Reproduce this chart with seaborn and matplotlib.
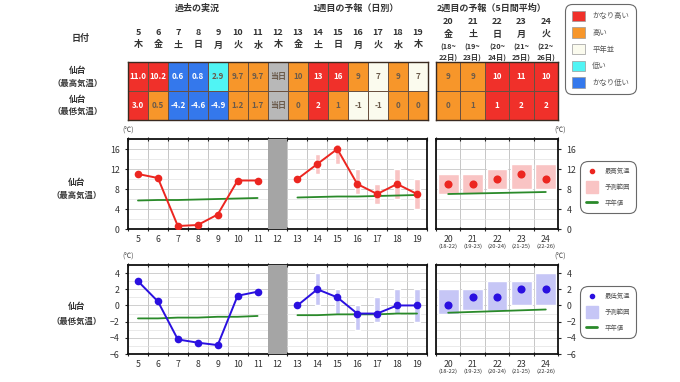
import numpy as np
import matplotlib
matplotlib.use("Agg")
import matplotlib.pyplot as plt
from matplotlib.colors import ListedColormap
from matplotlib.patches import Patch
from matplotlib.lines import Line2D
from matplotlib.ticker import MultipleLocator
import seaborn as sns

# ---------------- data ----------------
days_w1 = [5, 6, 7, 8, 9, 10, 11, 12, 13, 14, 15, 16, 17, 18, 19]
weekdays_w1 = ["木", "金", "土", "日", "月", "火", "水", "木", "金", "土", "日", "月", "火", "水", "木"]
days_w2 = [20, 21, 22, 23, 24]
weekdays_w2 = ["金", "土", "日", "月", "火"]
periods_w2 = ["18-22", "19-23", "20-24", "21-25", "22-26"]
periods_w2_head = [("(18~", "22日)"), ("(19~", "23日)"), ("(20~", "24日)"), ("(21~", "25日)"), ("(22~", "26日)")]

# table texts and classes (0 かなり高い, 1 高い, 2 平年並, 3 低い, 4 かなり低い, 5 当日)
high_text_w1 = ["11.0", "10.2", "0.6", "0.8", "2.9", "9.7", "9.7", "当日", "10", "13", "16", "9", "7", "9", "7"]
high_class_w1 = [0, 0, 4, 4, 3, 1, 1, 5, 1, 0, 0, 1, 2, 1, 2]
low_text_w1 = ["3.0", "0.5", "-4.2", "-4.6", "-4.9", "1.2", "1.7", "当日", "0", "2", "1", "-1", "-1", "0", "0"]
low_class_w1 = [0, 1, 4, 4, 4, 1, 1, 5, 1, 0, 1, 2, 2, 1, 1]
high_text_w2 = ["9", "9", "10", "11", "10"]
high_class_w2 = [1, 1, 0, 0, 0]
low_text_w2 = ["0", "1", "1", "2", "2"]
low_class_w2 = [1, 1, 0, 0, 0]

class_names = ["かなり高い", "高い", "平年並", "低い", "かなり低い"]
class_colors = ["#f0302a", "#f7962a", "#fbfbee", "#50f4f4", "#3478ec", "#b8b8b8"]

# observed
obs_days = [5, 6, 7, 8, 9, 10, 11]
obs_high = [11.0, 10.2, 0.6, 0.8, 2.9, 9.7, 9.7]
obs_low = [3.0, 0.5, -4.2, -4.6, -4.9, 1.2, 1.7]
normal_high_obs = [5.7, 5.8, 5.8, 5.9, 6.0, 6.1, 6.2]
normal_low_obs = [-1.6, -1.6, -1.5, -1.5, -1.4, -1.4, -1.3]

# week 1 forecast
fc_days = [13, 14, 15, 16, 17, 18, 19]
fc_high = [10, 13, 16, 9, 7, 9, 7]
fc_high_min = [np.nan, 11, 13, 7, 5, 6, 4]
fc_high_max = [np.nan, 15, 17, 12, 9, 12, 10]
fc_low = [0, 2, 1, -1, -1, 0, 0]
fc_low_min = [np.nan, 0, -1, -3, -2, -1, -2]
fc_low_max = [np.nan, 4, 2, 0, 1, 2, 2]
normal_high_fc = [6.3, 6.4, 6.5, 6.5, 6.6, 6.7, 6.8]
normal_low_fc = [-1.2, -1.2, -1.1, -1.1, -1.1, -1.0, -1.0]

# week 2 forecast (5-day means)
w2_high = [9, 9, 10, 11, 10]
w2_high_min = [7, 7, 8, 8, 8]
w2_high_max = [11, 11, 12, 13, 13]
w2_low = [0, 1, 1, 2, 2]
w2_low_min = [-1, -0.6, -0.7, 0, 0]
w2_low_max = [2, 2, 3, 3, 4]
normal_high_w2 = [7.0, 7.1, 7.2, 7.3, 7.4]
normal_low_w2 = [-0.9, -0.8, -0.7, -0.6, -0.5]

# ---------------- style ----------------
sns.set_theme(style="white")
plt.rcParams["font.family"] = ["Noto Sans CJK JP", "DejaVu Sans"]

RED = "#ec2620"
BLUE = "#2a10e0"
GREEN = "#2a8a2a"
PINK = "#f9c4c4"
LAVENDER = "#c6c6f6"
DARK = "#333333"

W, H = 680, 382
fig = plt.figure(figsize=(6.8, 3.82), dpi=100)


def box(x0, y0, x1, y1):
    return [x0 / W, 1 - y1 / H, (x1 - x0) / W, (y1 - y0) / H]


def ftext(x, y, s, **kw):
    kw.setdefault("ha", "center")
    kw.setdefault("va", "center")
    kw.setdefault("color", DARK)
    fig.text(x / W, 1 - y / H, s, **kw)


# ---------------- headers ----------------
ftext(197, 8, "過去の実況", fontsize=6.5, weight="bold")
ftext(355, 8, "1週目の予報（日別）", fontsize=6.5, weight="bold")
ftext(492, 8, "2週目の予報（5日間平均）", fontsize=6.5, weight="bold")
ftext(81, 38, "日付", fontsize=6.5, weight="bold")
ftext(78, 70, "仙台", fontsize=6.3, weight="bold")
ftext(78, 83, "（最高気温）", fontsize=6, weight="bold")
ftext(78, 99, "仙台", fontsize=6.3, weight="bold")
ftext(78, 111, "（最低気温）", fontsize=6, weight="bold")
ftext(77, 182, "仙台", fontsize=6.3, weight="bold")
ftext(77, 195, "（最高気温）", fontsize=6, weight="bold")
ftext(77, 307, "仙台", fontsize=6.3, weight="bold")
ftext(77, 321, "（最低気温）", fontsize=6, weight="bold")

# ---------------- tables ----------------
cmap = ListedColormap(class_colors)


def draw_table(ax, texts, classes):
    codes = np.array(classes)
    labels = np.array(texts)
    sns.heatmap(codes, ax=ax, cmap=cmap, vmin=-0.5, vmax=5.5, cbar=False,
                annot=labels, fmt="", linewidths=0.6, linecolor="#6a5040",
                xticklabels=False, yticklabels=False,
                annot_kws={"fontsize": 5.8, "weight": "bold"})
    for t, c in zip(ax.texts, codes.flatten()):
        t.set_color("white" if c in (0, 4) else "#6a5a4a")
    for s in ax.spines.values():
        s.set_visible(True)
        s.set_color("#3a2a20")
        s.set_linewidth(1.0)


ax_t1 = fig.add_axes(box(128, 62, 428, 120))
draw_table(ax_t1, [high_text_w1, low_text_w1], [high_class_w1, low_class_w1])
ax_t1.xaxis.tick_top()
ax_t1.set_xticks(np.arange(len(days_w1)) + 0.5)
ax_t1.set_xticklabels([f"{d}\n{w}" for d, w in zip(days_w1, weekdays_w1)],
                      fontsize=6.5, weight="bold", color=DARK, linespacing=1.5)
ax_t1.tick_params(axis="x", length=0, pad=9)

ax_t2 = fig.add_axes(box(436, 62, 558, 120))
draw_table(ax_t2, [high_text_w2, low_text_w2], [high_class_w2, low_class_w2])
for j, (d, w, (p1, p2)) in enumerate(zip(days_w2, weekdays_w2, periods_w2_head)):
    tr = ax_t2.get_xaxis_transform()
    ax_t2.text(j + 0.5, 1 + 41 / 58, str(d), transform=tr, ha="center", va="center",
               fontsize=6.5, weight="bold", color=DARK)
    ax_t2.text(j + 0.5, 1 + 28 / 58, w, transform=tr, ha="center", va="center",
               fontsize=6.5, weight="bold", color=DARK)
    ax_t2.text(j + 0.5, 1 + 15 / 58, p1, transform=tr, ha="center", va="center",
               fontsize=5.3, weight="bold", color=DARK)
    ax_t2.text(j + 0.5, 1 + 5 / 58, p2, transform=tr, ha="center", va="center",
               fontsize=5.3, weight="bold", color=DARK)

leg1 = fig.legend(handles=[Patch(facecolor=c, edgecolor="#999999", linewidth=0.5) for c in class_colors[:5]],
                  labels=class_names, loc="upper left", bbox_to_anchor=(565 / W, 1 - 4 / H),
                  fontsize=5.3, handlelength=1.8, handleheight=1.8, labelspacing=0.85,
                  handletextpad=1.0, borderpad=0.9, borderaxespad=0, frameon=True,
                  fancybox=True, labelcolor="#555555")
leg1.get_frame().set_edgecolor("#444444")
leg1.get_frame().set_linewidth(0.8)
leg1.get_frame().set_boxstyle("round", pad=0, rounding_size=1.0)


# ---------------- charts ----------------
def style_axes(ax, xlim, ylim, major, minor, right=False):
    ax.set_xlim(*xlim)
    ax.set_ylim(*ylim)
    ax.yaxis.set_major_locator(MultipleLocator(major))
    ax.yaxis.set_minor_locator(MultipleLocator(minor))
    ax.xaxis.set_minor_locator(MultipleLocator(1, offset=0.5))
    ax.grid(which="minor", axis="x", color="#bdbdbd", lw=0.6)
    ax.grid(which="major", axis="y", color="#c8c8c8", lw=0.6)
    ax.grid(which="minor", axis="y", color="#e2e2e2", lw=0.5)
    ax.set_axisbelow(True)
    ax.tick_params(axis="x", which="major", length=0, labelsize=6.3, labelcolor=DARK, pad=4)
    ax.tick_params(axis="x", which="minor", length=3, width=0.8, direction="inout", top=True, bottom=True)
    ax.tick_params(axis="y", which="major", length=2.5, width=0.8, labelsize=6.3, labelcolor=DARK,
                   left=not right, right=right, labelleft=not right, labelright=right)
    ax.tick_params(axis="y", which="minor", length=0)
    for s in ax.spines.values():
        s.set_color("#111111")
        s.set_linewidth(1.3)
    ax.set_xlabel("")
    ax.set_ylabel("")


def draw_week1(ax, obs, normal_obs, fc, fmin, fmax, normal_fc, color, band):
    fmin = np.array(fmin, dtype=float)
    fmax = np.array(fmax, dtype=float)
    ax.bar(fc_days, fmax - fmin, bottom=fmin, width=0.27, color=band, zorder=1)
    sns.lineplot(x=obs_days, y=normal_obs, ax=ax, color=GREEN, lw=1.3, zorder=2)
    sns.lineplot(x=fc_days, y=normal_fc, ax=ax, color=GREEN, lw=1.3, zorder=2)
    for xs, ys in ((obs_days, obs), (fc_days, fc)):
        sns.lineplot(x=xs, y=ys, ax=ax, color=color, lw=1.4, marker="o", markersize=5.5,
                     markeredgewidth=0, zorder=3)
    ax.axvspan(11.5, 12.5, color="#a5a5a5", zorder=4, lw=0)
    ax.set_xticks(days_w1)
    ax.set_xticklabels([str(d) for d in days_w1])


def draw_week2(ax, vals, vmin, vmax, normal, color, band):
    vmin = np.array(vmin, dtype=float)
    vmax = np.array(vmax, dtype=float)
    ax.bar(days_w2, vmax - vmin, bottom=vmin, width=0.86, color=band, zorder=1)
    sns.lineplot(x=days_w2, y=normal, ax=ax, color=GREEN, lw=1.3, zorder=2)
    sns.scatterplot(x=days_w2, y=vals, ax=ax, color=color, s=34, linewidth=0, zorder=3)
    ax.set_xticks(days_w2)
    ax.set_xticklabels([str(d) for d in days_w2])
    tr = ax.get_xaxis_transform()
    for d, p in zip(days_w2, periods_w2):
        ax.text(d, -0.19, f"({p})", transform=tr, ha="center", va="center", fontsize=4.2, color=DARK)


# high temperature
ax_h1 = fig.add_axes(box(128, 139, 427, 229))
draw_week1(ax_h1, obs_high, normal_high_obs, fc_high, fc_high_min, fc_high_max, normal_high_fc, RED, PINK)
style_axes(ax_h1, (4.5, 19.5), (0, 18), 4, 2)
ax_h2 = fig.add_axes(box(436, 139, 558, 229))
draw_week2(ax_h2, w2_high, w2_high_min, w2_high_max, normal_high_w2, RED, PINK)
style_axes(ax_h2, (19.5, 24.5), (0, 18), 4, 2, right=True)

# low temperature
ax_l1 = fig.add_axes(box(128, 265, 427, 354))
draw_week1(ax_l1, obs_low, normal_low_obs, fc_low, fc_low_min, fc_low_max, normal_low_fc, BLUE, LAVENDER)
style_axes(ax_l1, (4.5, 19.5), (-6, 5), 2, 1)
ax_l2 = fig.add_axes(box(436, 265, 558, 354))
draw_week2(ax_l2, w2_low, w2_low_min, w2_low_max, normal_low_w2, BLUE, LAVENDER)
style_axes(ax_l2, (19.5, 24.5), (-6, 5), 2, 1, right=True)

for y in (131, 257):
    ftext(128, y, "(℃)", fontsize=5, color="#444444")
    ftext(560, y, "(℃)", fontsize=5, color="#444444")


def chart_legend(label, color, band, top):
    handles = [Line2D([], [], ls="none", marker="o", color=color, markersize=3),
               Line2D([], [], ls="none", marker="s", color=band, markersize=8),
               Line2D([], [], color=GREEN, lw=2)]
    lg = fig.legend(handles=handles, labels=[label, "予測範囲", "平年値"], loc="upper left",
                    bbox_to_anchor=(580 / W, 1 - top / H), fontsize=4.6, handlelength=1.6,
                    labelspacing=1.2, handletextpad=1.2, borderpad=1.0, borderaxespad=0,
                    frameon=True, fancybox=True, labelcolor="#555555")
    lg.get_frame().set_edgecolor("#444444")
    lg.get_frame().set_linewidth(0.8)
    lg.get_frame().set_boxstyle("round", pad=0, rounding_size=1.2)


chart_legend("最高気温", RED, PINK, 161)
chart_legend("最低気温", BLUE, LAVENDER, 286)

fig.savefig("out.png", dpi=100)
